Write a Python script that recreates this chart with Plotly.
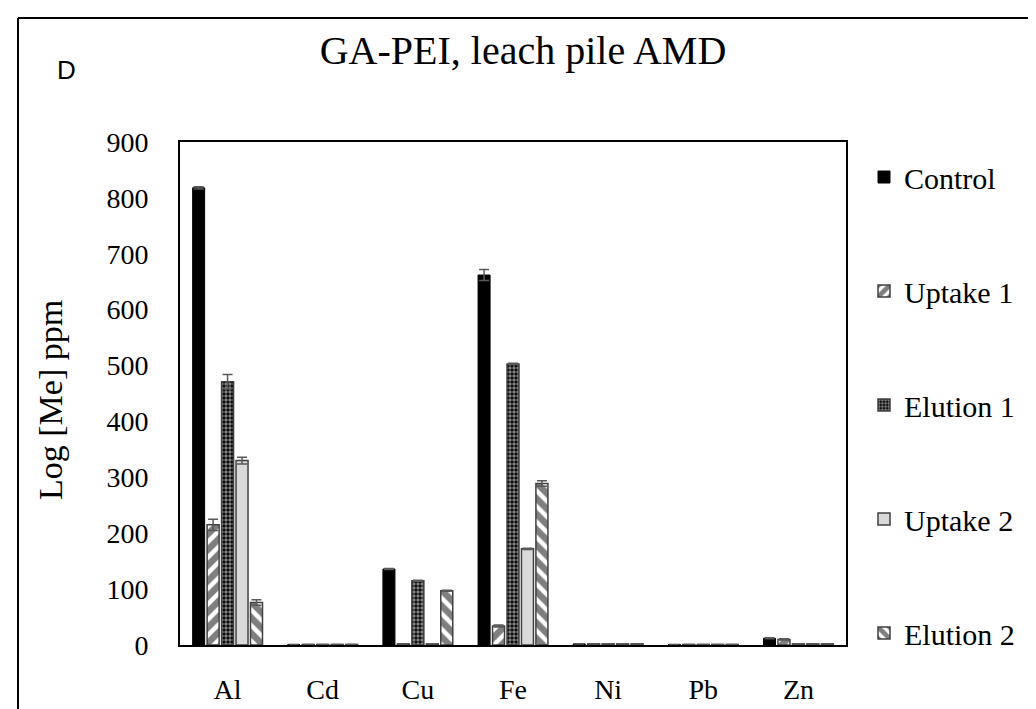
import plotly.graph_objects as go

# metals on the x axis
metals = ["Al", "Cd", "Cu", "Fe", "Ni", "Pb", "Zn"]

# concentrations (ppm)
control = [818, 1, 136, 662, 2, 1, 12]
uptake_1 = [215, 1, 2, 34, 2, 1, 10]
elution_1 = [471, 1, 115, 503, 2, 1, 2]
uptake_2 = [330, 1, 2, 172, 2, 1, 2]
elution_2 = [76, 1, 97, 289, 2, 1, 2]

# error bar sizes
control_err = [2, 0, 1, 10, 0, 0, 1]
uptake_1_err = [10, 0, 0, 2, 0, 0, 1]
elution_1_err = [13, 0, 1, 1, 0, 0, 0]
uptake_2_err = [6, 0, 0, 1, 0, 0, 0]
elution_2_err = [5, 0, 1, 5, 0, 0, 0]

SERIF = "Liberation Serif"
EDGE = "#404040"
ERR = "#595959"


def err(vals):
    return dict(type="data", array=vals, color=ERR, thickness=1.5, width=5)


fig = go.Figure()

fig.add_trace(go.Bar(
    name="Control", x=metals, y=control, error_y=err(control_err),
    marker=dict(color="black", line=dict(color="black", width=1)),
    legendgroup="a"))

fig.add_trace(go.Bar(
    name="Uptake 1", x=metals, y=uptake_1, error_y=err(uptake_1_err),
    marker=dict(color="white", line=dict(color=EDGE, width=1.5),
                pattern=dict(shape="/", fgcolor="black", bgcolor="white",
                             size=11, solidity=0.6, fillmode="overlay")),
    legendgroup="b"))

fig.add_trace(go.Bar(
    name="Elution 1", x=metals, y=elution_1, error_y=err(elution_1_err),
    marker=dict(color="black", line=dict(color=EDGE, width=1.5),
                pattern=dict(shape=".", fgcolor="white", bgcolor="black",
                             size=4, solidity=0.6, fillmode="overlay")),
    legendgroup="c"))

fig.add_trace(go.Bar(
    name="Uptake 2", x=metals, y=uptake_2, error_y=err(uptake_2_err),
    marker=dict(color="#d9d9d9", line=dict(color=EDGE, width=1.5)),
    legendgroup="d"))

fig.add_trace(go.Bar(
    name="Elution 2", x=metals, y=elution_2, error_y=err(elution_2_err),
    marker=dict(color="white", line=dict(color=EDGE, width=1.5),
                pattern=dict(shape="\\", fgcolor="black", bgcolor="white",
                             size=11, solidity=0.6, fillmode="overlay")),
    legendgroup="e"))

# plot area in pixels: x 172..838, y 134..637
L, R, T, B = 172, 1036 - 838, 134, 709 - 637
PW, PH = 1036 - L - R, 709 - T - B


def px(x):
    return (x - L) / PW


def py(y):
    return (709 - B - y) / PH


# outer box of the figure panel (left and top edges only)
shapes = [
    dict(type="line", xref="paper", yref="paper", x0=px(10), x1=px(10),
         y0=py(712), y1=py(10), line=dict(color="black", width=2)),
    dict(type="line", xref="paper", yref="paper", x0=px(10), x1=px(1040),
         y0=py(10), y1=py(10), line=dict(color="black", width=2)),
]

fig.update_layout(
    width=1036, height=709,
    margin=dict(l=L, r=R, t=T, b=B),
    paper_bgcolor="white", plot_bgcolor="white",
    barmode="group", bargap=0.24, bargroupgap=0.17,
    title=dict(text="GA-PEI, leach pile AMD", x=515 / 1036, xanchor="center",
               y=1 - 42 / 709, yanchor="middle",
               font=dict(family=SERIF, size=40, color="black")),
    font=dict(family=SERIF, size=28, color="black"),
    showlegend=True,
    legend=dict(x=px(856), y=py(143), xanchor="left", yanchor="top",
                font=dict(family=SERIF, size=30, color="black"),
                tracegroupgap=72, itemwidth=30, maxheight=700,
                bgcolor="rgba(0,0,0,0)"),
    shapes=shapes,
    annotations=[
        dict(text="D", xref="paper", yref="paper", x=px(58), y=py(62),
             xanchor="center", yanchor="middle", showarrow=False,
             font=dict(family="Liberation Sans", size=26, color="black")),
        dict(text="Log [Me] ppm", xref="paper", yref="paper", x=px(42), y=py(392),
             xanchor="center", yanchor="middle", textangle=-90, showarrow=False,
             font=dict(family=SERIF, size=34, color="black")),
    ],
)

fig.update_xaxes(showline=True, mirror=True, linecolor="black", linewidth=2,
                 ticks="", showgrid=False, ticklabelstandoff=18, automargin=False,
                 tickfont=dict(family=SERIF, size=28))
fig.update_yaxes(range=[0, 900], dtick=100, showline=True, mirror=True,
                 linecolor="black", linewidth=2, ticks="", showgrid=False,
                 zeroline=False, ticklabelstandoff=24, automargin=False,
                 tickfont=dict(family=SERIF, size=28))

fig.write_html("out.html")
